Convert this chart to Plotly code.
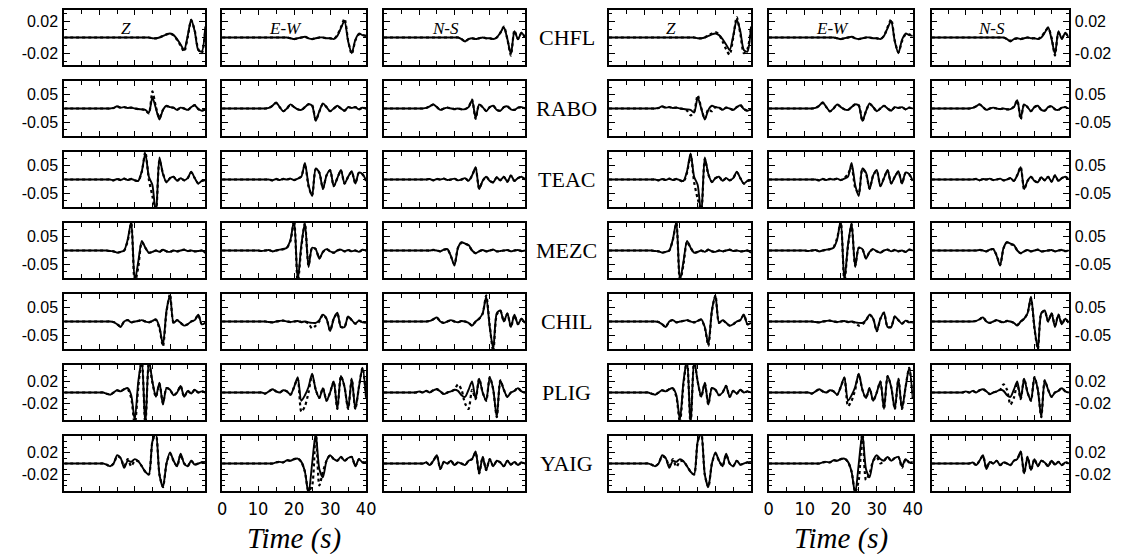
import plotly.graph_objects as go

# Sample times (s) of every trace
TIME_S = list(range(41))

STATIONS = ["CHFL", "RABO", "TEAC", "MEZC", "CHIL", "PLIG", "YAIG"]
COMPONENTS = ["Z", "E-W", "N-S"]

# Amplitudes below are in units of 1e-3
AMP_UNIT = 1e-3

# Labelled amplitude and half-range of the vertical axis for each station row
TICK_AMP = [0.02, 0.05, 0.05, 0.05, 0.05, 0.02, 0.02]
HALF_RANGE = [0.035, 0.1, 0.1, 0.1, 0.1, 0.05, 0.05]
MINOR_STEP = [0.01, 0.025, 0.025, 0.025, 0.025, 0.01, 0.01]

# ---- CHFL ----
CHFL_Z_OBS = [0,0,0,0,0,0,0,0,0,0, 0,0,0,0,0,0,0,0,0,0, 0,0,0,0,0,-1,-1,0,2,4, 5,3,-2,-9,-16,2,23,8,-16,-18, 14]
CHFL_Z_A   = [0,0,0,0,0,0,0,0,0,0, 0,0,0,0,0,0,0,0,0,0, 0,0,0,0,0,-1,-1,0,2,4, 5,3,-3,-10,-18,0,22,9,-15,-20, 10]
CHFL_Z_B   = [0,0,0,0,0,0,0,0,0,0, 0,0,0,0,0,0,0,0,0,0, 0,0,0,0,0,-1,-1,0,3,5, 7,4,-5,-15,-22,0,26,5,-20,-15, 12]
CHFL_EW_OBS = [0,0,0,0,0,0,0,0,0,0, 0,0,0,0,0,0,0,0,0,-1, -2,-1,0,1,-1,-2,-1,0,0,-1, -1,-2,2,12,21,-5,-20,-3,5,3, 2]
CHFL_EW_A   = [0,0,0,0,0,0,0,0,0,0, 0,0,0,0,0,0,0,0,0,-1, -2,-1,0,1,-1,-2,-1,0,0,-1, -1,-2,3,13,24,-4,-21,-4,4,3, 2]
CHFL_EW_B   = [0,0,0,0,0,0,0,0,0,0, 0,0,0,0,0,0,0,0,0,-1, -2,-1,0,1,-1,-2,-1,0,0,-1, -1,-2,2,13,23,-4,-19,-5,4,4, 2]
CHFL_NS_OBS = [0,0,0,0,0,0,0,0,0,0, 0,0,0,0,0,0,0,0,0,0, 0,0,-2,-5,-2,-1,-2,-1,0,-1, -1,-2,0,6,13,-2,-21,8,-2,6, 0]
CHFL_NS_A   = [0,0,0,0,0,0,0,0,0,0, 0,0,0,0,0,0,0,0,0,0, 0,0,-2,-5,-2,-1,-2,-1,0,-1, -1,-2,0,6,14,-2,-23,9,-2,6, 0]
CHFL_NS_B   = [0,0,0,0,0,0,0,0,0,0, 0,0,0,0,0,0,0,0,0,0, 0,0,-2,-4,-2,-1,-2,-1,0,-1, -1,-2,1,7,12,0,-23,6,0,5, 1]

# ---- RABO ----
RABO_Z_OBS = [0,0,0,0,0,0,0,0,0,0, 0,0,0,0,2,8,3,5,2,3, 0,-2,-3,-5,-15,40,0,-40,-5,10, 5,3,-5,3,0,-5,5,12,-2,-8, -3]
RABO_Z_A   = [0,0,0,0,0,0,0,0,0,0, 0,0,0,0,2,7,3,5,2,3, 0,-2,-3,-6,-18,62,5,-35,-5,8, 5,3,-4,3,0,-5,4,12,-2,-8, -3]
RABO_Z_B   = [0,0,0,0,0,0,0,0,0,0, 0,0,0,0,2,7,3,5,2,3, 0,-2,-8,-25,-12,48,2,-38,-3,-10, 5,3,-4,3,0,-5,5,13,-2,-8, -3]
RABO_EW_OBS = [0,0,0,0,0,0,0,0,0,0, 0,0,0,2,10,22,5,-10,0,15, 5,-3,-5,5,15,10,-45,-10,18,5, -10,0,10,0,-8,5,2,5,-3,3, 0]
RABO_EW_A   = [0,0,0,0,0,0,0,0,0,0, 0,0,0,2,10,20,5,-10,0,14, 5,-3,-5,5,16,12,-42,-12,17,5, -10,0,9,0,-8,5,2,5,-3,3, 0]
RABO_EW_B   = [0,0,0,0,0,0,0,0,0,0, 0,0,0,2,10,21,5,-11,0,15, 6,-3,-5,5,15,12,-46,-10,17,5, -9,0,10,0,-8,5,2,5,-3,3, 0]
RABO_NS_OBS = [0,0,0,0,0,0,0,0,0,0, 0,0,2,8,15,5,-5,0,3,0, -2,0,-3,-2,5,30,-35,15,5,-10, 5,10,-5,-8,5,8,-3,-5,3,5, 0]
RABO_NS_A   = [0,0,0,0,0,0,0,0,0,0, 0,0,2,8,14,5,-5,0,3,0, -2,0,-3,-2,5,32,-38,14,5,-9, 5,10,-5,-8,5,8,-3,-5,3,5, 0]
RABO_NS_B   = [0,0,0,0,0,0,0,0,0,0, 0,0,2,8,15,5,-5,0,3,0, -2,0,-3,-2,6,30,-40,15,5,-10, 5,10,-5,-8,5,8,-3,-5,3,5, 0]

# ---- TEAC ----
TEAC_Z_OBS = [0,0,0,0,0,0,0,0,0,0, 0,0,0,0,-3,2,-2,3,-2,2, -3,-5,30,95,10,-20,-130,80,20,-10, 5,10,-5,5,-3,5,28,5,-15,-5, -3]
TEAC_Z_A   = [0,0,0,0,0,0,0,0,0,0, 0,0,0,0,-3,2,-2,3,-2,2, -3,-5,28,100,0,-60,-120,70,22,-10, 5,10,-5,5,-3,5,26,5,-14,-5, -3]
TEAC_Z_B   = [0,0,0,0,0,0,0,0,0,0, 0,0,0,0,-3,2,-2,3,-2,2, -3,-8,25,90,-10,-70,-110,75,18,-8, 5,10,-5,5,-3,5,27,5,-15,-5, -3]
TEAC_EW_OBS = [0,0,0,0,0,0,0,0,0,0, 0,0,0,0,-3,2,-2,2,0,3, -2,3,10,60,-20,-60,40,25,-35,15, 35,-25,5,35,-15,10,30,-15,25,20, -5]
TEAC_EW_A   = [0,0,0,0,0,0,0,0,0,0, 0,0,0,0,-3,2,-2,2,0,3, -2,3,12,55,-25,-58,38,25,-33,15, 33,-24,5,33,-15,10,28,-14,25,18, -5]
TEAC_EW_B   = [0,0,0,0,0,0,0,0,0,0, 0,0,0,0,-3,2,-2,2,0,3, -2,5,20,45,-30,-50,38,22,-33,15, 32,-22,5,33,-14,10,28,-14,24,18, -5]
TEAC_NS_OBS = [0,0,0,0,0,0,0,0,0,0, 0,0,0,2,-3,2,0,3,-2,0, 3,-3,0,5,-5,15,45,-35,-5,10, -5,-10,8,-3,10,-8,15,-5,5,10, 0]
TEAC_NS_A   = [0,0,0,0,0,0,0,0,0,0, 0,0,0,2,-3,2,0,3,-2,0, 3,-3,0,5,-5,14,42,-33,-5,10, -5,-10,8,-3,10,-8,14,-5,5,10, 0]
TEAC_NS_B   = [0,0,0,0,0,0,0,0,0,0, 0,0,0,2,-3,2,0,3,-2,0, 3,-3,0,5,-5,16,46,-36,-5,10, -5,-10,8,-3,10,-8,15,-5,5,10, 0]

# ---- MEZC ----
MEZC_Z_OBS = [0,0,0,0,0,0,0,0,0,0, 0,0,0,-2,-3,-8,-5,0,40,105, -110,-40,35,10,-8,-5,0,-5,3,-3, -5,0,-3,0,3,-2,0,-3,-2,0, -8]
MEZC_Z_A   = [0,0,0,0,0,0,0,0,0,0, 0,0,0,-2,-3,-8,-5,0,35,100, -120,-60,30,10,-8,-5,0,-5,3,-3, -5,0,-3,0,3,-2,0,-3,-2,0, -8]
MEZC_Z_B   = [0,0,0,0,0,0,0,0,0,0, 0,0,0,-2,-3,-8,-5,0,38,100, -115,-50,32,10,-8,-5,0,-5,3,-3, -5,0,-3,0,3,-2,0,-3,-2,0, -8]
MEZC_EW_OBS = [0,0,0,0,0,0,0,0,0,0, 0,-2,0,2,-3,0,3,5,10,40, 110,-110,20,100,-60,10,5,-30,-5,5, -3,-8,0,3,-3,2,-3,0,-5,3, 0]
MEZC_EW_A   = [0,0,0,0,0,0,0,0,0,0, 0,-2,0,2,-3,0,3,5,10,35, 110,-120,10,100,-55,10,5,-28,-5,5, -3,-8,0,3,-3,2,-3,0,-5,3, 0]
MEZC_EW_B   = [0,0,0,0,0,0,0,0,0,0, 0,-2,0,2,-3,0,3,5,12,45, 105,-115,15,95,-55,10,5,-28,-5,5, -3,-8,0,3,-3,2,-3,0,-5,3, 0]
MEZC_NS_OBS = [0,0,0,0,0,0,0,0,0,0, 0,0,0,0,2,0,-3,3,5,-20, -55,10,30,25,20,0,-10,-3,2,-3, 0,3,-3,-2,0,2,-3,0,2,-2, 0]
MEZC_NS_A   = [0,0,0,0,0,0,0,0,0,0, 0,0,0,0,2,0,-3,3,5,-22, -50,10,28,25,18,0,-10,-3,2,-3, 0,3,-3,-2,0,2,-3,0,2,-2, 0]
MEZC_NS_B   = [0,0,0,0,0,0,0,0,0,0, 0,0,0,0,2,0,-3,3,5,-18, -52,8,30,22,20,0,-10,-3,2,-3, 0,3,-3,-2,0,2,-3,0,2,-2, 0]

# ---- CHIL ----
CHIL_Z_OBS = [0,0,0,0,0,0,0,0,0,0, 0,0,0,0,-2,-10,-20,0,5,-3, 0,2,5,0,-3,2,8,-20,-85,40, 95,-5,5,-5,-15,-10,0,5,25,-10, -5]
CHIL_Z_A   = [0,0,0,0,0,0,0,0,0,0, 0,0,0,0,-2,-10,-18,0,5,-3, 0,2,5,0,-3,2,6,-25,-90,35, 100,-5,5,-5,-14,-10,0,5,24,-10, -5]
CHIL_Z_B   = [0,0,0,0,0,0,0,0,0,0, 0,0,0,0,-2,-10,-20,0,5,-3, 0,2,5,0,-3,2,6,-22,-88,38, 95,-5,5,-5,-15,-10,0,5,25,-10, -5]
CHIL_EW_OBS = [0,0,0,0,0,0,0,0,0,0, 0,0,0,-2,-3,0,2,3,0,-2, 0,2,-2,0,-3,-5,-5,5,25,10, -35,10,32,-20,-20,18,5,-8,3,-3, -3]
CHIL_EW_A   = [0,0,0,0,0,0,0,0,0,0, 0,0,0,-2,-3,0,2,3,0,-2, 0,2,-2,0,-8,-25,-15,0,25,10, -33,10,30,-20,-20,18,5,-8,3,-3, -3]
CHIL_EW_B   = [0,0,0,0,0,0,0,0,0,0, 0,0,0,-2,-3,0,2,3,0,-2, 0,2,-2,0,-5,-15,-10,3,25,10, -35,10,32,-20,-20,18,5,-8,3,-3, -3]
CHIL_NS_OBS = [0,0,0,0,0,0,0,0,0,0, 0,0,0,2,8,15,0,-5,0,5, 0,-3,2,0,-5,-15,0,10,30,90, -20,-100,30,40,0,30,-20,25,-10,10, -5]
CHIL_NS_A   = [0,0,0,0,0,0,0,0,0,0, 0,0,0,2,8,14,0,-5,0,5, 0,-3,2,0,-5,-15,0,10,28,95, -15,-110,25,40,0,28,-20,22,-10,10, -5]
CHIL_NS_B   = [0,0,0,0,0,0,0,0,0,0, 0,0,0,2,8,15,0,-5,0,5, 0,-3,2,0,-5,-12,0,10,30,85, -25,-100,30,38,0,30,-15,25,-8,10, -5]

# ---- PLIG ----
PLIG_Z_OBS = [0,0,0,0,0,0,0,0,0,0, 0,0,-2,-4,0,4,2,6,8,-5, -50,20,60,-60,60,20,-8,18,-22,8, 5,-5,0,12,-8,3,-2,5,0,2, 0]
PLIG_Z_A   = [0,0,0,0,0,0,0,0,0,0, 0,0,-2,-4,0,4,2,6,6,-10, -60,10,60,-60,55,18,-8,16,-20,8, 5,-5,0,12,-8,3,-2,5,0,2, 0]
PLIG_Z_B   = [0,0,0,0,0,0,0,0,0,0, 0,0,-2,-4,0,4,2,6,7,-8, -55,15,60,-60,58,20,-8,17,-22,8, 5,-5,0,12,-8,3,-2,5,0,2, 0]
PLIG_EW_OBS = [0,0,0,0,0,0,0,0,0,0, 0,0,-2,2,6,2,0,4,2,-4, 10,28,-15,-5,10,34,5,-10,8,-15, 0,20,-30,30,10,-30,25,-30,10,45, -10]
PLIG_EW_A   = [0,0,0,0,0,0,0,0,0,0, 0,0,-2,2,6,2,0,4,2,-4, 10,25,-35,-25,0,32,5,-10,8,-15, 0,20,-30,30,10,-30,25,-30,10,45, -10]
PLIG_EW_B   = [0,0,0,0,0,0,0,0,0,0, 0,0,-2,2,6,2,0,4,2,-4, 10,26,-25,-15,5,33,5,-10,8,-15, 0,20,-30,30,10,-30,25,-30,10,45, -10]
PLIG_NS_OBS = [0,0,0,0,0,0,0,0,0,0, 2,0,3,0,4,6,2,-3,0,2, 5,3,-5,-8,5,20,-12,25,0,-15, 28,5,-45,22,5,-8,0,3,8,2, 0]
PLIG_NS_A   = [0,0,0,0,0,0,0,0,0,0, 2,0,3,0,4,6,2,-3,0,2, 5,15,5,-20,-30,5,-12,25,0,-15, 28,5,-45,22,5,-8,0,3,8,2, 0]
PLIG_NS_B   = [0,0,0,0,0,0,0,0,0,0, 2,0,3,0,4,6,2,-3,0,2, 5,15,5,-22,-10,15,-12,25,0,-15, 28,5,-45,22,5,-8,0,3,8,2, 0]

# ---- YAIG ----
YAIG_Z_OBS = [0,0,0,0,0,0,0,0,0,0, 0,0,-2,-5,0,15,10,-8,5,3, 8,4,-5,-15,-20,40,55,-20,-43,0, 20,5,-5,18,0,-5,5,-2,0,2, 3]
YAIG_Z_A   = [0,0,0,0,0,0,0,0,0,0, 0,0,-2,-5,0,13,10,-5,8,-5, 5,4,-5,-15,-20,40,55,-20,-43,0, 18,5,-5,16,0,-5,5,-2,0,2, 3]
YAIG_Z_B   = [0,0,0,0,0,0,0,0,0,0, 0,0,-2,-5,0,13,10,-5,8,-6, 4,4,-5,-15,-20,40,55,-20,-43,0, 18,5,-5,16,0,-5,5,-2,0,2, 3]
YAIG_EW_OBS = [0,0,0,0,0,0,0,0,0,0, 0,0,0,0,0,2,3,2,6,5, 8,9,3,-15,-55,0,55,-10,-25,5, 15,8,5,12,5,10,12,-5,8,2, 3]
YAIG_EW_A   = [0,0,0,0,0,0,0,0,0,0, 0,0,0,0,0,2,3,2,6,5, 8,9,3,-15,-50,-40,60,-40,-15,5, 15,8,5,12,5,10,12,-5,8,2, 3]
YAIG_EW_B   = [0,0,0,0,0,0,0,0,0,0, 0,0,0,0,0,2,3,2,6,5, 8,9,3,-15,-52,-30,60,-30,-18,5, 12,0,5,12,5,10,12,-8,8,2, 3]
YAIG_NS_OBS = [0,0,0,0,0,0,0,0,0,0, 0,0,2,-3,5,15,-10,3,0,5, -3,2,0,-3,5,8,22,-18,12,-12, 8,-5,5,2,-5,5,-2,3,-3,2, 0]
YAIG_NS_A   = [0,0,0,0,0,0,0,0,0,0, 0,0,2,-3,5,14,-10,3,0,5, -3,2,0,-3,5,8,20,-18,12,-12, 8,-5,5,2,-5,5,-2,3,-3,2, 0]
YAIG_NS_B   = [0,0,0,0,0,0,0,0,0,0, 0,0,2,-3,5,14,-8,3,0,5, -3,2,0,-3,5,8,21,-18,12,-12, 8,-5,5,2,-5,5,-2,3,-3,2, 0]

OBSERVED = {
    "CHFL": [CHFL_Z_OBS, CHFL_EW_OBS, CHFL_NS_OBS],
    "RABO": [RABO_Z_OBS, RABO_EW_OBS, RABO_NS_OBS],
    "TEAC": [TEAC_Z_OBS, TEAC_EW_OBS, TEAC_NS_OBS],
    "MEZC": [MEZC_Z_OBS, MEZC_EW_OBS, MEZC_NS_OBS],
    "CHIL": [CHIL_Z_OBS, CHIL_EW_OBS, CHIL_NS_OBS],
    "PLIG": [PLIG_Z_OBS, PLIG_EW_OBS, PLIG_NS_OBS],
    "YAIG": [YAIG_Z_OBS, YAIG_EW_OBS, YAIG_NS_OBS],
}
SYNTH_A = {
    "CHFL": [CHFL_Z_A, CHFL_EW_A, CHFL_NS_A],
    "RABO": [RABO_Z_A, RABO_EW_A, RABO_NS_A],
    "TEAC": [TEAC_Z_A, TEAC_EW_A, TEAC_NS_A],
    "MEZC": [MEZC_Z_A, MEZC_EW_A, MEZC_NS_A],
    "CHIL": [CHIL_Z_A, CHIL_EW_A, CHIL_NS_A],
    "PLIG": [PLIG_Z_A, PLIG_EW_A, PLIG_NS_A],
    "YAIG": [YAIG_Z_A, YAIG_EW_A, YAIG_NS_A],
}
SYNTH_B = {
    "CHFL": [CHFL_Z_B, CHFL_EW_B, CHFL_NS_B],
    "RABO": [RABO_Z_B, RABO_EW_B, RABO_NS_B],
    "TEAC": [TEAC_Z_B, TEAC_EW_B, TEAC_NS_B],
    "MEZC": [MEZC_Z_B, MEZC_EW_B, MEZC_NS_B],
    "CHIL": [CHIL_Z_B, CHIL_EW_B, CHIL_NS_B],
    "PLIG": [PLIG_Z_B, PLIG_EW_B, PLIG_NS_B],
    "YAIG": [YAIG_Z_B, YAIG_EW_B, YAIG_NS_B],
}

# ---- page geometry (pixels) ----
W, H = 1131, 554
COL_X = [(60, 203), (220, 366), (384, 527), (612, 756), (774, 920), (939, 1078)]
ROW_TOP = [10, 81, 152, 223, 294, 365, 436]
ROW_H = 55

SANS = "Liberation Sans, Arial, sans-serif"
NARROW = "Liberation Sans Narrow, Arial Narrow, DejaVu Sans Condensed, sans-serif"
SERIF = "Liberation Serif, Times New Roman, serif"

fig = go.Figure()
layout_axes = {}
annotations = []


def label(x_px, y_px, text, size):
    """Text centred on a pixel position of the page."""
    return dict(x=x_px / W, y=1 - y_px / H, xref="paper", yref="paper",
                xanchor="center", yanchor="middle", showarrow=False, text=text,
                font=dict(family=SERIF, size=size, color="black"))


k = 0
for r, st in enumerate(STATIONS):
    top = ROW_TOP[r]
    y0, y1 = 1 - (top + ROW_H) / H, 1 - top / H
    amp = TICK_AMP[r]
    for c in range(6):
        k += 1
        comp = c % 3
        block = c // 3
        x0, x1 = COL_X[c]
        xname, yname = f"x{k}", f"y{k}"
        synth = (SYNTH_A if block == 0 else SYNTH_B)[st][comp]
        obs = OBSERVED[st][comp]

        fig.add_trace(go.Scatter(
            x=TIME_S, y=[v * AMP_UNIT for v in obs], mode="lines",
            line=dict(color="black", width=1.9, shape="spline", smoothing=0.7),
            xaxis=xname, yaxis=yname, showlegend=False, hoverinfo="skip"))
        fig.add_trace(go.Scatter(
            x=TIME_S, y=[v * AMP_UNIT for v in synth], mode="lines",
            line=dict(color="black", width=2.2, dash="dot", shape="spline", smoothing=0.7),
            xaxis=xname, yaxis=yname, showlegend=False, hoverinfo="skip"))

        show_x = (r == len(STATIONS) - 1 and comp == 1)
        layout_axes[f"xaxis{k}"] = dict(
            domain=[x0 / W, x1 / W], range=[0, 40], anchor=yname,
            showline=True, linecolor="black", linewidth=1.8, mirror="ticks",
            ticks="inside", ticklen=5, tickwidth=1.3, tickcolor="black",
            tickmode="array", tickvals=[0, 10, 20, 30, 40],
            showticklabels=show_x, ticklabelstandoff=0,
            tickfont=dict(family=NARROW, size=18, color="black"),
            minor=dict(tickmode="array", tickvals=[5, 15, 25, 35], ticks="inside",
                       ticklen=4, tickwidth=1.3, tickcolor="black"),
            showgrid=False, zeroline=False, fixedrange=True)

        show_y = c in (0, 5)
        layout_axes[f"yaxis{k}"] = dict(
            domain=[y0, y1], range=[-HALF_RANGE[r], HALF_RANGE[r]], anchor=xname,
            side="right" if c == 5 else "left",
            showline=True, linecolor="black", linewidth=1.8, mirror="ticks",
            ticks="inside", ticklen=6, tickwidth=1.3, tickcolor="black",
            tickmode="array", tickvals=[-amp, amp],
            ticktext=[f"-{amp:g}", f"{amp:g}"],
            showticklabels=show_y, ticklabelstandoff=1,
            tickfont=dict(family=SANS, size=16, color="black"),
            minor=dict(tickmode="linear", tick0=0, dtick=MINOR_STEP[r], ticks="inside",
                       ticklen=3, tickwidth=1.2, tickcolor="black"),
            showgrid=False, zeroline=False, fixedrange=True)

        if r == 0:
            annotations.append(label(x0 + 0.44 * (x1 - x0), top + 18,
                                     f"<i>{COMPONENTS[comp]}</i>", 17))

    annotations.append(label((COL_X[2][1] + COL_X[3][0]) / 2, top + ROW_H / 2, st, 22))

for c in (1, 4):
    x0, x1 = COL_X[c]
    annotations.append(label((x0 + x1) / 2, 538, "<i>Time (s)</i>", 29))

fig.update_layout(
    width=W, height=H, margin=dict(l=0, r=0, t=0, b=0),
    paper_bgcolor="white", plot_bgcolor="white",
    annotations=annotations, **layout_axes)

fig.write_html("out.html")
